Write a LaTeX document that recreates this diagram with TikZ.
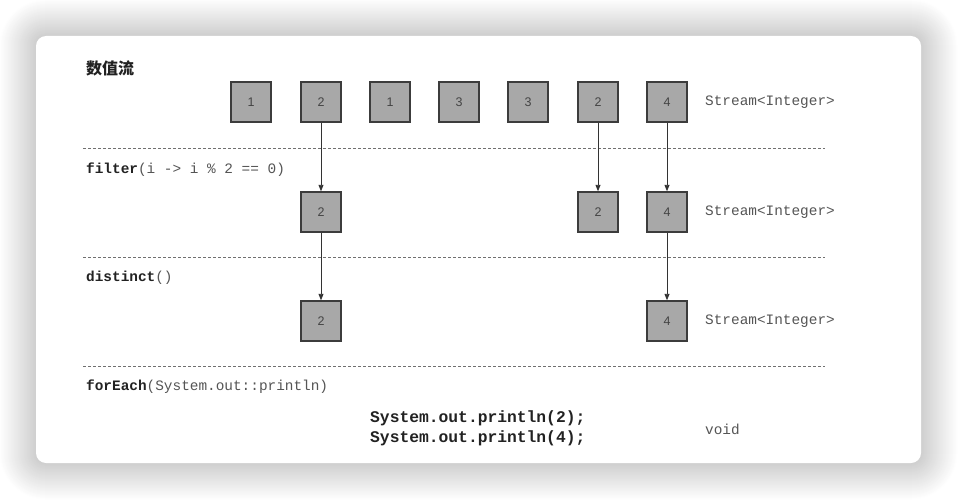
\documentclass[tikz,border=0pt]{standalone}
\usepackage{fontspec}
\setmonofont{Liberation Mono}
\setsansfont{Liberation Sans}
\newfontfamily\cjk{Noto Sans CJK SC}
\usetikzlibrary{arrows.meta}
\definecolor{boxfill}{HTML}{A8A8A8}
\definecolor{boxline}{HTML}{3C3C3C}
\definecolor{numtext}{HTML}{444444}
\definecolor{codegray}{HTML}{555555}
\definecolor{codedark}{HTML}{222222}
\definecolor{dashgray}{HTML}{707070}
\definecolor{arrowgray}{HTML}{333333}
\begin{document}
\begin{tikzpicture}[x=1pt,y=-1pt,
  numbox/.style={draw=boxline, fill=boxfill, line width=1.4pt, minimum width=40pt, minimum height=40pt, inner sep=0pt, font=\sffamily\fontsize{12.5}{12.5}\selectfont, text=numtext},
  lbl/.style={anchor=west, inner sep=0pt, font=\ttfamily\fontsize{14.4}{16}\selectfont, text=codegray},
  big/.style={anchor=west, inner sep=0pt, font=\ttfamily\bfseries\fontsize{16.3}{20}\selectfont, text=codedark},
  sep/.style={draw=dashgray, line width=1pt, dash pattern=on 3pt off 2pt},
  flow/.style={draw=arrowgray, line width=0.9pt, -{Triangle[length=6.5pt,width=5pt]}}]
\useasboundingbox (0,0) rectangle (958,500);
\fill[white] (0,0) rectangle (958,500);
% shadow (solid layers, outermost first)
\foreach \i in {36,35,...,1}{
  \pgfmathsetmacro\r{10+\i}
  \pgfmathsetmacro\k{19*(1-\i/37)}
  \fill[black!\k, rounded corners=\r pt] ({36-\i},{36-\i}) rectangle ({921+\i},{463+\i});
}
\fill[white, rounded corners=10pt] (36,36) rectangle (921,463);

% title
\node[anchor=west, inner sep=0pt, font=\cjk\bfseries\fontsize{16}{16}\selectfont, text=codedark] (title) at (86,68) {数值流};

% row 1
\node[numbox] (a1) at (251,102) {1};
\node[numbox] (a2) at (321,102) {2};
\node[numbox] (a3) at (390,102) {1};
\node[numbox] (a4) at (459,102) {3};
\node[numbox] (a5) at (528,102) {3};
\node[numbox] (a6) at (598,102) {2};
\node[numbox] (a7) at (667,102) {4};
\node[lbl] (s1) at (705,102) {Stream<Integer>};

% separator 1
\draw[sep] (83,148) -- (825,148);
\node[lbl] (filt) at (86,170) {\textcolor{codedark}{\bfseries filter}(i -> i \% 2 == 0)};

% row 2
\node[numbox] (b2) at (321,212) {2};
\node[numbox] (b6) at (598,212) {2};
\node[numbox] (b7) at (667,212) {4};
\node[lbl] (s2) at (705,212) {Stream<Integer>};

% separator 2
\draw[sep] (83,257) -- (825,257);
\node[lbl] (dist) at (86,278) {\textcolor{codedark}{\bfseries distinct}()};

% row 3
\node[numbox] (c2) at (321,321) {2};
\node[numbox] (c7) at (667,321) {4};
\node[lbl] (s3) at (705,321) {Stream<Integer>};

% separator 3
\draw[sep] (83,366) -- (825,366);
\node[lbl] (fe) at (86,387) {\textcolor{codedark}{\bfseries forEach}(System.out::println)};

\node[big] (p2) at (370,418) {System.out.println(2);};
\node[big] (p4) at (370,438) {System.out.println(4);};
\node[lbl] (void) at (705,429) {void};

% arrows
\draw[flow] (a2) -- (b2);
\draw[flow] (a6) -- (b6);
\draw[flow] (a7) -- (b7);
\draw[flow] (b2) -- (c2);
\draw[flow] (b7) -- (c7);
\end{tikzpicture}
\end{document}
